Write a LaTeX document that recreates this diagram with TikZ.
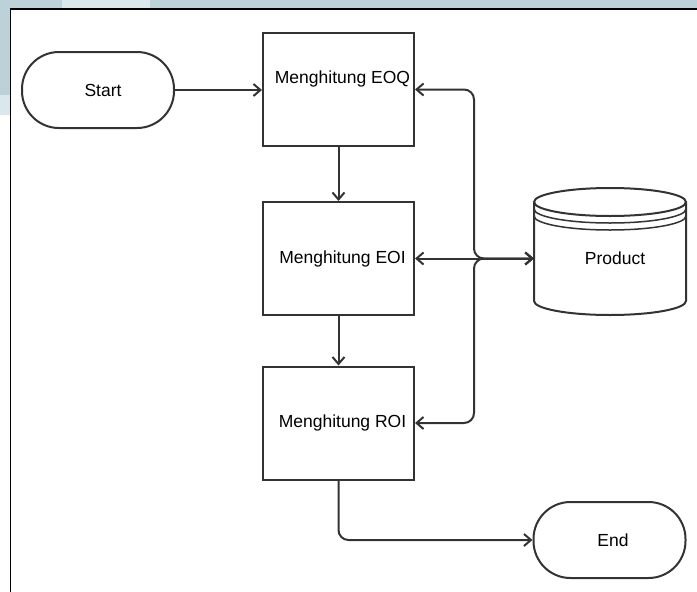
\documentclass[tikz,border=0pt]{standalone}
\usepackage{fontspec}
\setmainfont{Liberation Sans}
\usetikzlibrary{arrows.meta,calc}
\definecolor{bgblue}{RGB}{188,209,216}
\definecolor{bglight}{RGB}{218,231,236}
\definecolor{ln}{RGB}{51,51,51}
\begin{document}
\begin{tikzpicture}[x=1pt,y=-1pt,
  font=\fontsize{17.5}{20}\selectfont,
  box/.style={draw=ln, line width=2pt, minimum width=151pt, minimum height=113pt, inner sep=0pt, fill=white},
  term/.style={draw=ln, line width=2pt, rounded corners=37pt, minimum width=152pt, minimum height=76pt, inner sep=0pt, fill=white},
  tip/.tip={Straight Barb[length=7pt,width=12pt]},
  conn/.style={draw=ln, line width=2pt, -tip, rounded corners=10pt},
  biconn/.style={draw=ln, line width=2pt, tip-tip, rounded corners=10pt}]
\useasboundingbox (0,0) rectangle (697,592);
% background
\fill[white] (0,0) rectangle (697,592);
\fill[bgblue] (0,0) rectangle (697,9);
\fill[bglight] (62,0) rectangle (150,9);
\fill[bgblue] (0,0) rectangle (10,95);
\fill[bglight] (0,95) rectangle (10,115);
\draw[black, line width=1.5pt] (10.5,592) -- (10.5,9) -- (697,9);
% cylinder
\draw[ln, line width=2pt, fill=white]
  (534,202) -- (534,301)
  .. controls (534,308.73) and (568.02,315) .. (610,315)
  .. controls (651.98,315) and (686,308.73) .. (686,301)
  -- (686,202)
  .. controls (686,194.27) and (651.98,188) .. (610,188)
  .. controls (568.02,188) and (534,194.27) .. (534,202) -- cycle;
\draw[ln, line width=2pt]
  (534,202) .. controls (534,209.73) and (568.02,216) .. (610,216)
  .. controls (651.98,216) and (686,209.73) .. (686,202);
\draw[ln, line width=1.5pt]
  (534,209) .. controls (534,216.73) and (568.02,223) .. (610,223)
  .. controls (651.98,223) and (686,216.73) .. (686,209);
\draw[ln, line width=1.5pt]
  (534,216) .. controls (534,223.73) and (568.02,230) .. (610,230)
  .. controls (651.98,230) and (686,223.73) .. (686,216);
% nodes
\node[term] (start) at (98,90) {\kern10pt Start};
\node[box] (eoq) at (338.5,89.5) {\kern8pt\raisebox{11pt}[\height][\depth]{Menghitung EOQ}};
\node[box] (eoi) at (338.5,258.5) {\kern8pt Menghitung EOI};
\node[box] (roi) at (338.5,423) {\kern8pt Menghitung ROI};
\node[term] (end) at (609.5,540) {\kern7pt End};
\node[minimum width=152pt, minimum height=128pt, inner sep=0pt] (product) at (610,251) {\kern10pt\raisebox{-7pt}[\height][\depth]{Product}};
% connectors
\coordinate (bus) at (474,258.5);
\draw[conn] (start.east) -- (start.east -| eoq.west);
\draw[conn] (eoq.south) -- (eoi.north);
\draw[conn] (eoi.south) -- (roi.north);
\draw[biconn] (product.west |- eoi.east) -- (eoi.east);
\draw[biconn] (product.west |- eoi.east) -- (bus) -- (bus |- eoq.east) -- (eoq.east);
\draw[biconn] (product.west |- eoi.east) -- (bus) -- (bus |- roi.east) -- (roi.east);
\draw[conn] (roi.south) -- (roi.south |- end.west) -- (end.west);
\end{tikzpicture}
\end{document}
